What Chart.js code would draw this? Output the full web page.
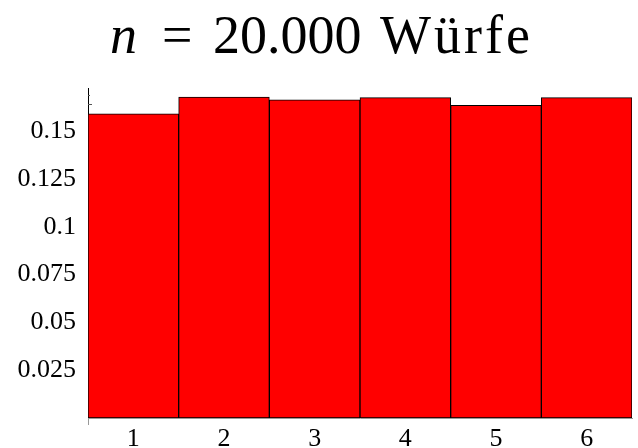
<!DOCTYPE html>
<html>
<head>
<meta charset="utf-8">
<script src="https://cdn.jsdelivr.net/npm/chart.js@4"></script>
<style>
  body { margin: 0; background: #fff; }
</style>
</head>
<body>
<canvas id="wuerfelChart" width="638" height="448"></canvas>
<script>
const augenzahlen = ['1', '2', '3', '4', '5', '6'];
const haeufigkeiten = [0.159, 0.1677, 0.1663, 0.1675, 0.1635, 0.1675];
const yTicks = [0.025, 0.05, 0.075, 0.1, 0.125, 0.15];
const yMinorTicks = [0.164, 0.169];

const serif = '"Liberation Serif", "Times New Roman", serif';

// title with italic n, drawn like the LaTeX original
const titlePlugin = {
  id: 'texTitle',
  afterDraw(chart) {
    const c = chart.ctx;
    c.save();
    c.fillStyle = '#000';
    c.textBaseline = 'alphabetic';
    c.textAlign = 'left';
    c.font = 'italic 54px ' + serif;
    c.fillText('n', 110, 53);
    c.font = '54px ' + serif;
    c.fillText('=', 162, 53);
    c.fillText('20.000', 213, 53);
    c.letterSpacing = '3px';
    c.fillText('Würfe', 380, 53);
    c.restore();

    // small tick marks visible above the bars, and the x axis end tick
    const y = chart.scales.y, x = chart.scales.x;
    c.save();
    c.strokeStyle = '#555';
    c.lineWidth = 1;
    yMinorTicks.forEach((v, i) => {
      const py = Math.round(y.getPixelForValue(v)) + 0.5;
      c.beginPath();
      c.moveTo(x.left, py);
      c.lineTo(x.left + (i === 0 ? 4 : 2), py);
      c.stroke();
    });
    c.strokeStyle = '#999';
    c.beginPath();
    c.moveTo(x.left + 0.5, x.top);
    c.lineTo(x.left + 0.5, x.top + 7);
    c.stroke();
    c.restore();
  }
};

const ctx = document.getElementById('wuerfelChart').getContext('2d');
new Chart(ctx, {
  type: 'bar',
  data: {
    labels: augenzahlen,
    datasets: [{
      label: 'relative Häufigkeit',
      data: haeufigkeiten,
      backgroundColor: '#ff0000',
      borderColor: '#000',
      borderWidth: 1,
      borderSkipped: false,
      categoryPercentage: 1,
      barPercentage: 1
    }]
  },
  options: {
    responsive: false,
    animation: false,
    layout: { padding: { top: 88, right: 6, left: 0, bottom: 0 } },
    plugins: {
      legend: { display: false },
      title: { display: false },
      tooltip: { enabled: false }
    },
    scales: {
      x: {
        grid: { display: false, drawTicks: false },
        border: { color: '#999', width: 1 },
        ticks: { color: '#000', padding: 6, font: { family: serif, size: 26 } },
        afterFit: axis => { axis.height = 30; }
      },
      y: {
        min: 0,
        max: 0.1725,
        afterBuildTicks: axis => { axis.ticks = yTicks.map(v => ({ value: v })); },
        grid: { display: false, drawTicks: false },
        border: { color: '#000', width: 1 },
        ticks: {
          color: '#000',
          padding: 12,
          font: { family: serif, size: 26 },
          callback: v => String(v)
        },
        afterFit: axis => { axis.width = 88; }
      }
    }
  },
  plugins: [titlePlugin]
});
</script>
</body>
</html>
